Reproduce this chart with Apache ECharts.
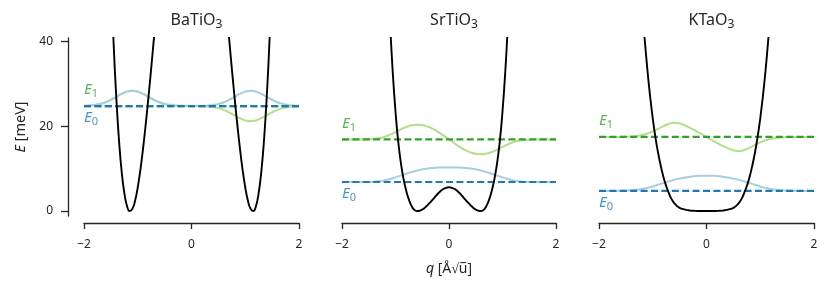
<!DOCTYPE html>
<html><head><meta charset="utf-8">
<script src="https://cdn.jsdelivr.net/npm/echarts@6/dist/echarts.min.js"></script>
<style>html,body{margin:0;padding:0;background:#fff}#c{width:831px;height:291px}</style>
</head><body><div id="c"></div>
<script>
// ---- data ----
const materials = ['BaTiO', 'SrTiO', 'KTaO'];
const materialSub = '3';
const xTicks = [-2, 0, 2];
const yTicks = [0, 20, 40];
const levelE0 = [24.8, 6.85, 4.75];
const levelE1 = [24.8, 16.9, 17.5];

const qWave = [-2.0,-1.9,-1.8,-1.7,-1.6,-1.5,-1.4,-1.3,-1.2,-1.1,-1.0,-0.9,-0.8,-0.7,-0.6,-0.5,-0.4,-0.3,-0.2,-0.1,0,
  0.1,0.2,0.3,0.4,0.5,0.6,0.7,0.8,0.9,1.0,1.1,1.2,1.3,1.4,1.5,1.6,1.7,1.8,1.9,2.0];

const waveBa0 = [24.84,24.90,25.04,25.29,25.70,26.28,26.98,27.68,28.21,28.40,28.21,27.68,26.98,26.28,25.70,25.29,25.04,24.90,24.84,24.81,24.80,
  24.81,24.84,24.90,25.04,25.29,25.70,26.28,26.98,27.68,28.21,28.40,28.21,27.68,26.98,26.28,25.70,25.29,25.04,24.90,24.84];
const waveBa1 = [24.84,24.90,25.04,25.29,25.70,26.28,26.98,27.68,28.21,28.40,28.21,27.68,26.98,26.28,25.70,25.29,25.04,24.90,24.84,24.81,24.80,
  24.79,24.76,24.70,24.56,24.31,23.90,23.32,22.62,21.92,21.39,21.20,21.39,21.92,22.62,23.32,23.90,24.31,24.56,24.70,24.76];
const waveSr0 = [6.85,6.85,6.85,6.85,6.85,6.87,6.93,7.05,7.27,7.57,7.95,8.35,8.8,9.2,9.55,9.87,10.05,10.17,10.25,10.29,10.3,
  10.29,10.25,10.17,10.05,9.87,9.55,9.2,8.8,8.35,7.95,7.57,7.27,7.05,6.93,6.87,6.85,6.85,6.85,6.85,6.85];
const waveSr1 = [16.9,16.9,16.9,16.9,16.92,16.96,17.05,17.23,17.55,18.05,18.65,19.3,19.85,20.25,20.4,20.3,19.95,19.4,18.65,17.8,16.9,
  16.0,15.15,14.4,13.85,13.5,13.4,13.55,13.95,14.5,15.15,15.75,16.25,16.57,16.75,16.84,16.88,16.9,16.9,16.9,16.9];
const waveKt0 = [4.75,4.75,4.75,4.75,4.77,4.8,4.88,5.01,5.2,5.47,5.8,6.2,6.6,7.0,7.35,7.65,7.9,8.1,8.25,8.32,8.35,
  8.32,8.25,8.1,7.9,7.65,7.35,7.0,6.6,6.2,5.8,5.47,5.2,5.01,4.88,4.8,4.77,4.75,4.75,4.75,4.75];
const waveKt1 = [17.5,17.5,17.5,17.5,17.51,17.54,17.6,17.72,17.95,18.3,18.8,19.4,20.05,20.6,20.85,20.65,20.2,19.6,18.95,18.25,17.5,
  16.75,16.05,15.4,14.8,14.35,14.15,14.4,14.95,15.6,16.2,16.7,17.05,17.28,17.4,17.46,17.49,17.5,17.5,17.5,17.5];

const qPotBaL = [-1.55,-1.5,-1.45,-1.4,-1.35,-1.3,-1.25,-1.2,-1.15,-1.1,-1.05,-1.0,-0.95,-0.9,-0.85,-0.8,-0.75,-0.7,-0.65,-0.6];
const vPotBaL = [75.4,56.0,39.9,27.0,16.9,9.4,4.3,1.2,0.0,0.5,2.4,5.6,9.8,14.9,20.7,27.0,33.7,40.7,47.7,54.8];
const qPotBaR = [0.6,0.65,0.7,0.75,0.8,0.85,0.9,0.95,1.0,1.05,1.1,1.15,1.2,1.25,1.3,1.35,1.4,1.45,1.5,1.55];
const vPotBaR = [54.8,47.7,40.7,33.7,27.0,20.7,14.9,9.8,5.6,2.4,0.5,0.0,1.2,4.3,9.4,16.9,27.0,39.9,56.0,75.4];

const qPotSr = [-1.15,-1.1,-1.05,-1.0,-0.95,-0.9,-0.85,-0.8,-0.75,-0.7,-0.65,-0.6,-0.55,-0.5,-0.45,-0.4,-0.35,-0.3,-0.25,-0.2,-0.15,-0.1,-0.05,0,
  0.05,0.1,0.15,0.2,0.25,0.3,0.35,0.4,0.45,0.5,0.55,0.6,0.65,0.7,0.75,0.8,0.85,0.9,0.95,1.0,1.05,1.1,1.15];
const vPotSr = [58,44,32.5,23.5,16.5,11.4,7.6,4.8,2.7,1.2,0.3,0.0,0.07,0.35,0.8,1.4,2.05,2.75,3.5,4.2,4.8,5.25,5.5,5.6,
  5.5,5.25,4.8,4.2,3.5,2.75,2.05,1.4,0.8,0.35,0.07,0.0,0.3,1.2,2.7,4.8,7.6,11.4,16.5,23.5,32.5,44,58];

const qPotKt = [-1.25,-1.2,-1.15,-1.1,-1.05,-1.0,-0.95,-0.9,-0.85,-0.8,-0.75,-0.7,-0.65,-0.6,-0.55,-0.5,-0.45,-0.4,-0.35,-0.3,-0.25,-0.2,-0.15,-0.1,-0.05,0,
  0.05,0.1,0.15,0.2,0.25,0.3,0.35,0.4,0.45,0.5,0.55,0.6,0.65,0.7,0.75,0.8,0.85,0.9,0.95,1.0,1.05,1.1,1.15,1.2,1.25];
const vPotKt = [58.5,49,40.6,33.4,27.2,21.9,17.4,13.7,10.6,8.0,5.9,4.2,2.8,1.85,1.2,0.75,0.5,0.33,0.2,0.1,0.05,0.02,0.01,0,0,0,
  0,0,0.01,0.02,0.05,0.1,0.2,0.33,0.5,0.75,1.2,1.85,2.8,4.2,5.9,8.0,10.6,13.7,17.4,21.9,27.2,33.4,40.6,49,58.5];

const levelSymbol = 'E';
const levelSubs = ['0', '1'];

// ---- chart ----
const FONT = 'Noto Sans';
const TXT = '#262626';
const C_E0 = '#1f78b4', C_E1 = '#33a02c', C_W0 = '#a6cee3', C_W1 = '#b2df8a';
const zip = (q, v) => q.map((x, i) => [x, v[i]]);
const potentials = [[zip(qPotBaL, vPotBaL), zip(qPotBaR, vPotBaR)], [zip(qPotSr, vPotSr)], [zip(qPotKt, vPotKt)]];
const wave0 = [waveBa0, waveSr0, waveKt0];
const wave1 = [waveBa1, waveSr1, waveKt1];

const grids = [
  {left: 84, top: 38, width: 215, height: 178},
  {left: 342, top: 38, width: 214, height: 178},
  {left: 599, top: 38, width: 215, height: 178}
];
const axisLine = {show: true, onZero: false, lineStyle: {color: TXT, width: 1.3}};
const xAxes = grids.map((g, i) => ({
  gridIndex: i, type: 'value', min: xTicks[0], max: xTicks[2], interval: 2, offset: 7,
  axisLine, axisTick: {show: true, length: 6, lineStyle: {color: TXT, width: 1.3}},
  axisLabel: {fontFamily: FONT, fontSize: 12, color: TXT, margin: 16,
    formatter: v => (v < 0 ? '\u2212' + Math.abs(v) : String(v))},
  splitLine: {show: false},
  name: i === 1 ? '{i|q} [Å√u\u0305]' : '', nameLocation: 'middle', nameGap: 39,
  nameTextStyle: {fontFamily: FONT, fontSize: 14, color: TXT,
    rich: {i: {fontFamily: FONT, fontSize: 14, fontStyle: 'italic', color: TXT}}}
}));
const yAxes = grids.map((g, i) => ({
  gridIndex: i, type: 'value', min: -1.18, max: 40.87, show: i === 0, offset: 16,
  axisLine, axisTick: {show: true, length: 7, customValues: yTicks, lineStyle: {color: TXT, width: 1.3}},
  axisLabel: {fontFamily: FONT, fontSize: 12, color: TXT, margin: 15, customValues: yTicks},
  splitLine: {show: false},
  name: '{i|E} [meV]', nameLocation: 'middle', nameGap: 40,
  nameTextStyle: {fontFamily: FONT, fontSize: 14.5, color: TXT,
    rich: {i: {fontFamily: FONT, fontSize: 14.5, fontStyle: 'italic', color: TXT}}}
}));

const subRich = (size, subSize, drop, color, extra) => ({
  m: Object.assign({fontFamily: FONT, fontSize: size, color, verticalAlign: 'top'}, extra || {}),
  s: {fontFamily: FONT, fontSize: subSize, color, verticalAlign: 'top', padding: [drop, 0, 0, 0]}
});

const series = [];
grids.forEach((g, i) => {
  const base = {type: 'line', xAxisIndex: i, yAxisIndex: i, symbol: 'none', smooth: true, clip: true, silent: true};
  series.push(Object.assign({}, base, {data: zip(qWave, wave1[i]), z: 2, lineStyle: {color: C_W1, width: 2}}));
  series.push(Object.assign({}, base, {data: zip(qWave, wave0[i]), z: 3, lineStyle: {color: C_W0, width: 2}}));
  series.push(Object.assign({}, base, {smooth: false, data: [[-2, levelE1[i]], [2, levelE1[i]]], z: 4,
    lineStyle: {color: C_E1, width: 2.2, type: [7, 3.4]}}));
  series.push(Object.assign({}, base, {smooth: false, data: [[-2, levelE0[i]], [2, levelE0[i]]], z: 5,
    lineStyle: {color: C_E0, width: 2.2, type: [7, 3.4]}}));
  potentials[i].forEach(p => series.push(Object.assign({}, base, {data: p, z: 6, lineStyle: {color: '#000', width: 1.9}})));
  const lab = (color, dy, sub) => ({show: true, position: 'right', distance: 0, offset: [0, dy],
    formatter: '{m|' + levelSymbol + '}{s|' + sub + '}',
    rich: subRich(15, 11, 6, color, {fontStyle: 'italic'})});
  series.push({type: 'scatter', xAxisIndex: i, yAxisIndex: i, symbolSize: 0, silent: true, z: 7,
    data: [
      {value: [-2, levelE1[i]], label: lab(C_E1, -15, levelSubs[1])},
      {value: [-2, levelE0[i]], label: lab(C_E0, 13, levelSubs[0])}
    ]});
});

const titles = grids.map((g, i) => ({
  text: '{m|' + materials[i] + '}{s|' + materialSub + '}', left: g.left + g.width / 2, top: 7, textAlign: 'center',
  textStyle: {fontFamily: FONT, fontSize: 16, fontWeight: 'normal', color: TXT, rich: subRich(16, 12, 7, TXT)}
}));

const chart = echarts.init(document.getElementById('c'), null, {renderer: 'canvas'});
chart.setOption({animation: false, backgroundColor: '#fff', title: titles, grid: grids, xAxis: xAxes, yAxis: yAxes, series});
</script></body></html>
